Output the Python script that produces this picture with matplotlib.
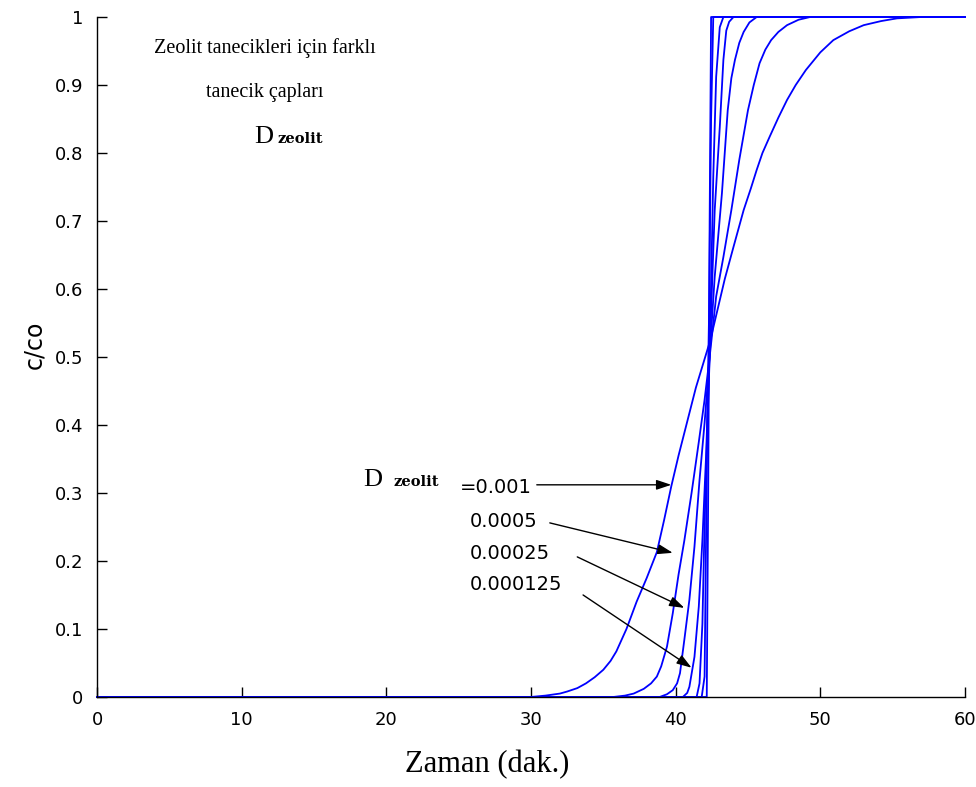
import numpy as np
import matplotlib
matplotlib.use('Agg')
from matplotlib import pyplot as plt

# breakthrough curves, one per particle diameter
x_001 = [0, 30.0, 31.0, 32.0, 32.5, 33.2, 33.8, 34.4, 35.0, 35.5, 35.9, 36.6, 37.3, 38.0,
         38.7, 39.2, 39.7, 40.2, 40.8, 41.4, 41.9, 42.4, 42.9, 43.4, 44.0, 44.7, 45.2, 45.6,
         46.0, 46.5, 47.1, 47.7, 48.3, 49.0, 50.0, 50.9, 52.0, 53.0, 54.2, 55.3, 57.0, 60]
y_001 = [0, 0, 0.002, 0.005, 0.008, 0.013, 0.02, 0.029, 0.04, 0.053, 0.067, 0.10, 0.14, 0.175,
         0.213, 0.26, 0.31, 0.355, 0.405, 0.455, 0.49, 0.525, 0.57, 0.615, 0.662, 0.716, 0.748, 0.775,
         0.80, 0.824, 0.852, 0.878, 0.90, 0.922, 0.948, 0.966, 0.979, 0.988, 0.994, 0.998, 1.0, 1.0]

x_0005 = [0, 35.7, 36.5, 37.1, 37.8, 38.3, 38.7, 39.0, 39.4, 39.8, 40.2, 40.6, 41.1, 41.6,
          42.0, 42.35, 42.8, 43.3, 43.85, 44.4, 45.0, 45.4, 45.8, 46.2, 46.6, 47.1, 47.7,
          48.5, 49.3, 60]
y_0005 = [0, 0, 0.002, 0.005, 0.012, 0.02, 0.03, 0.045, 0.074, 0.123, 0.18, 0.23, 0.30, 0.375,
          0.437, 0.50, 0.589, 0.647, 0.716, 0.79, 0.863, 0.90, 0.932, 0.952, 0.966, 0.978, 0.988,
          0.996, 1.0, 1.0]

x_00025 = [0, 38.9, 39.4, 39.8, 40.1, 40.3, 40.6, 40.95, 41.3, 41.65, 42.0, 42.3, 42.7, 43.2,
           43.6, 43.85, 44.1, 44.4, 44.7, 45.1, 45.6, 60]
y_00025 = [0, 0, 0.004, 0.01, 0.02, 0.035, 0.084, 0.143, 0.221, 0.319, 0.403, 0.486, 0.618,
           0.741, 0.863, 0.91, 0.937, 0.962, 0.978, 0.992, 1.0, 1.0]

x_000125 = [0, 40.5, 40.8, 40.95, 41.3, 41.6, 41.85, 42.1, 42.3, 42.7, 43.05, 43.3, 43.5,
            43.7, 44.0, 60]
y_000125 = [0, 0, 0.006, 0.015, 0.059, 0.133, 0.231, 0.353, 0.476, 0.716, 0.838, 0.937, 0.98,
            0.993, 1.0, 1.0]

x_5 = [0, 41.45, 41.65, 41.85, 42.0, 42.2, 42.35, 42.6, 42.8, 43.05, 43.3, 60]
y_5 = [0, 0, 0.02, 0.108, 0.255, 0.403, 0.5, 0.765, 0.912, 0.985, 1.0, 1.0]

x_6 = [0, 41.8, 42.0, 42.1, 42.2, 42.3, 42.45, 42.6, 60]
y_6 = [0, 0, 0.03, 0.23, 0.427, 0.55, 0.85, 1.0, 1.0]

x_7 = [0, 42.15, 42.25, 42.35, 42.45, 60]
y_7 = [0, 0, 0.3, 0.7, 1.0, 1.0]

curves = [(x_001, y_001), (x_0005, y_0005), (x_00025, y_00025), (x_000125, y_000125),
          (x_5, y_5), (x_6, y_6), (x_7, y_7)]

d_labels = ['=0.001', '0.0005', '0.00025', '0.000125']
x_ticks = [0, 10, 20, 30, 40, 50, 60]
y_ticks = [0, 0.1, 0.2, 0.3, 0.4, 0.5, 0.6, 0.7, 0.8, 0.9, 1]
y_ticklabels = ['0', '0.1', '0.2', '0.3', '0.4', '0.5', '0.6', '0.7', '0.8', '0.9', '1']

serif = 'Liberation Serif'
sans = 'DejaVu Sans'

fig = plt.figure(figsize=(9.76, 7.87), dpi=100)
ax = fig.add_axes([0.0994, 0.1144, 0.8893, 0.864])

for xs, ys in curves:
    ax.plot(xs, ys, color='#0000ff', lw=1.3, clip_on=False)

ax.set_xlim(0, 60)
ax.set_ylim(0, 1)
ax.spines['top'].set_visible(False)
ax.spines['right'].set_visible(False)
ax.spines['left'].set_linewidth(1.0)
ax.spines['bottom'].set_linewidth(1.0)
ax.set_xticks(x_ticks)
ax.set_yticks(y_ticks)
ax.set_yticklabels(y_ticklabels)
ax.tick_params(direction='in', length=7, width=1, pad=10, labelsize=13)
for lab in ax.get_xticklabels() + ax.get_yticklabels():
    lab.set_family(sans)

ax.set_xlabel('Zaman (dak.)', family=serif, fontsize=22)
ax.xaxis.set_label_coords(0.449, -0.078)
ax.set_ylabel('c/co', family=sans, fontsize=17)
ax.yaxis.set_label_coords(-0.059, 0.518)

# title block
ax.text(11.6, 0.947, 'Zeolit tanecikleri için farklı', family=serif, fontsize=14.5,
        ha='center', va='baseline')
ax.text(11.6, 0.882, 'tanecik çapları', family=serif, fontsize=14.5,
        ha='center', va='baseline')
ax.text(10.9, 0.815, 'D', family=serif, fontsize=19, va='baseline')
ax.text(12.5, 0.815, 'zeolit', family='DejaVu Serif', fontsize=10.5, fontweight='bold',
        va='baseline')

# labels with arrows
ax.text(18.4, 0.31, 'D', family=serif, fontsize=19, va='baseline')
ax.text(20.5, 0.31, 'zeolit', family='DejaVu Serif', fontsize=10.5, fontweight='bold',
        va='baseline')
lab_x = [25.1, 25.8, 25.8, 25.8]
lab_y = [0.300, 0.250, 0.203, 0.157]
for t, lx, ly in zip(d_labels, lab_x, lab_y):
    ax.text(lx, ly, t, family=sans, fontsize=14, va='baseline')

arrow_from = [(30.4, 0.312), (31.3, 0.256), (33.2, 0.206), (33.6, 0.150)]
arrow_to = [(39.7, 0.312), (39.8, 0.212), (40.6, 0.131), (41.1, 0.043)]
for a, b in zip(arrow_from, arrow_to):
    ax.annotate('', xy=b, xytext=a,
                arrowprops=dict(arrowstyle='-|>,head_length=0.9,head_width=0.3',
                                color='black', lw=1.0, shrinkA=0, shrinkB=0))

fig.savefig('out.png', dpi=100)
